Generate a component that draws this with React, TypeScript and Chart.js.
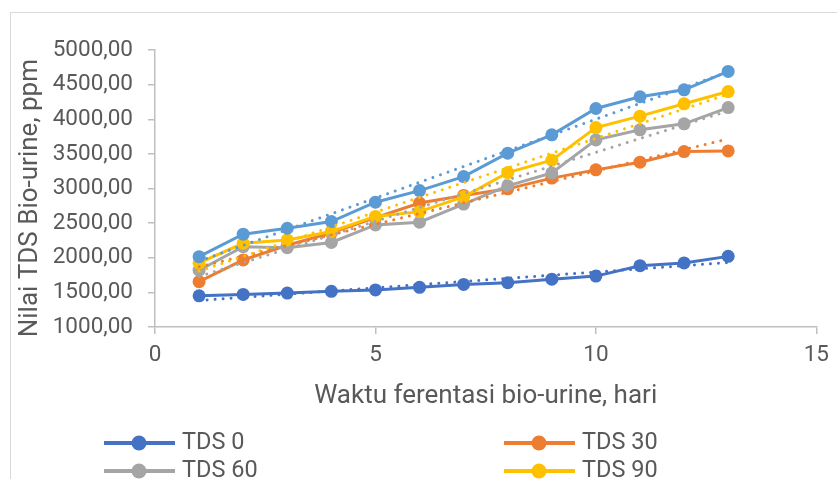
import React, { useEffect, useRef } from 'react';
import { Chart, registerables } from 'chart.js';

Chart.register(...registerables);

// ---------- data ----------
const days = [1, 2, 3, 4, 5, 6, 7, 8, 9, 10, 11, 12, 13];
const seriesNames = ['TDS 0', 'TDS 30', 'TDS 60', 'TDS 90', 'TDS 120'];
const legendNames = ['TDS 0', 'TDS 30', 'TDS 60', 'TDS 90'];
const tds0 = [1450, 1470, 1490, 1515, 1535, 1573, 1615, 1640, 1690, 1735, 1885, 1925, 2020];
const tds30 = [1655, 1968, 2180, 2360, 2580, 2790, 2900, 2995, 3150, 3269, 3380, 3533, 3543];
const tds60 = [1820, 2160, 2145, 2220, 2474, 2513, 2775, 3038, 3225, 3702, 3847, 3934, 4169];
const tds90 = [1925, 2209, 2257, 2380, 2597, 2666, 2880, 3230, 3408, 3880, 4045, 4223, 4400];
const tds120 = [2016, 2340, 2426, 2522, 2802, 2970, 3172, 3510, 3775, 4155, 4325, 4425, 4690];
const seriesValues = [tds0, tds30, tds60, tds90, tds120];
const seriesColors = ['#4472C4', '#ED7D31', '#A5A5A5', '#FFC000', '#5B9BD5'];

const yMin = 1000;
const yMax = 5000;
const yStep = 500;
const xMin = 0;
const xMax = 15;
const xStep = 5;
const xTitle = 'Waktu ferentasi bio-urine, hari';
const yTitle = 'Nilai TDS Bio-urine, ppm';

// ---------- helpers ----------
function linearFit(xs: number[], ys: number[]) {
  const n = xs.length;
  const mx = xs.reduce((a, b) => a + b, 0) / n;
  const my = ys.reduce((a, b) => a + b, 0) / n;
  let sxy = 0;
  let sxx = 0;
  for (let i = 0; i < n; i++) {
    sxy += (xs[i] - mx) * (ys[i] - my);
    sxx += (xs[i] - mx) * (xs[i] - mx);
  }
  const b = sxy / sxx;
  const a = my - b * mx;
  return (x: number) => a + b * x;
}

const TEXT = '#595959';
const AXIS = '#BFBFBF';
const FONT = 'Roboto';

const legendPlugin = {
  id: 'excelLegend',
  afterDraw(chart: any) {
    const ctx = chart.ctx;
    const items = chart.data.datasets.filter((d: any) => d.inLegend);
    const cols = [104, 504];
    const rows = [443, 471];
    items.forEach((d: any, i: number) => {
      const x0 = cols[i % 2];
      const cy = rows[Math.floor(i / 2)];
      ctx.save();
      ctx.strokeStyle = d.borderColor;
      ctx.lineWidth = 4;
      ctx.beginPath();
      ctx.moveTo(x0, cy);
      ctx.lineTo(x0 + 71, cy);
      ctx.stroke();
      ctx.fillStyle = d.borderColor;
      ctx.beginPath();
      ctx.arc(x0 + 35, cy, 7.5, 0, Math.PI * 2);
      ctx.fill();
      ctx.fillStyle = TEXT;
      ctx.font = `23.5px ${FONT}`;
      ctx.textAlign = 'left';
      ctx.textBaseline = 'middle';
      ctx.fillText(d.label, x0 + 78, cy);
      ctx.restore();
    });
  },
};

export default function App() {
  const ref = useRef<HTMLCanvasElement | null>(null);

  useEffect(() => {
    document.body.style.overflow = 'hidden';
    const canvas = ref.current;
    if (!canvas) return;

    const mainSets = seriesValues.map((vals, i) => ({
      label: seriesNames[i],
      inLegend: legendNames.includes(seriesNames[i]),
      data: days.map((d, k) => ({ x: d, y: vals[k] })),
      borderColor: seriesColors[i],
      backgroundColor: seriesColors[i],
      borderWidth: 3,
      pointRadius: 6.5,
      pointBorderWidth: 0,
      pointBackgroundColor: seriesColors[i],
      pointHoverRadius: 6.5,
      tension: 0,
      order: 20 - i,
    }));

    const trendSets = seriesValues.map((vals, i) => {
      const f = linearFit(days, vals);
      const first = days[0];
      const last = days[days.length - 1];
      return {
        label: 'Linear (' + seriesNames[i] + ')',
        inLegend: false,
        data: [
          { x: first, y: f(first) },
          { x: last, y: f(last) },
        ],
        borderColor: seriesColors[i],
        backgroundColor: seriesColors[i],
        borderWidth: 3,
        borderDash: [0.01, 8],
        borderCapStyle: 'round',
        pointRadius: 0,
        pointHoverRadius: 0,
        tension: 0,
        order: 10 - i,
      };
    });

    const chart = new Chart(canvas, {
      type: 'line',
      data: { datasets: [...mainSets, ...trendSets] as any },
      options: {
        animation: false,
        responsive: false,
        maintainAspectRatio: false,
        layout: { padding: { left: 0, right: 19, top: 50, bottom: 0 } },
        plugins: {
          legend: { display: false },
          tooltip: { enabled: false },
          title: { display: false },
        },
        scales: {
          x: {
            type: 'linear',
            min: xMin,
            max: xMax,
            afterFit: (s: any) => {
              s.height = 152;
            },
            ticks: {
              stepSize: xStep,
              padding: 8,
              color: TEXT,
              font: { family: FONT, size: 22.5 },
              maxRotation: 0,
              callback: (v: any) => String(v),
            },
            grid: {
              drawOnChartArea: false,
              drawTicks: true,
              tickLength: 7,
              color: AXIS,
              lineWidth: 1.5,
            },
            border: { display: true, color: AXIS, width: 1.5 },
            title: {
              display: true,
              text: xTitle,
              color: TEXT,
              font: { family: FONT, size: 26 },
              padding: { top: 0, bottom: 67 },
            },
          },
          y: {
            type: 'linear',
            min: yMin,
            max: yMax,
            afterFit: (s: any) => {
              s.width = 155;
            },
            ticks: {
              stepSize: yStep,
              padding: 15,
              color: TEXT,
              font: { family: FONT, size: 22.5 },
              callback: (v: any) => Number(v).toFixed(2).replace('.', ','),
            },
            grid: {
              drawOnChartArea: false,
              drawTicks: true,
              tickLength: 7,
              color: AXIS,
              lineWidth: 1.5,
            },
            border: { display: true, color: AXIS, width: 1.5 },
            title: {
              display: true,
              text: yTitle + '   ',
              color: TEXT,
              font: { family: FONT, size: 26 },
              padding: { top: 15, bottom: 0 },
            },
          },
        },
      },
      plugins: [legendPlugin],
    });

    return () => {
      chart.destroy();
    };
  }, []);

  return (
    <div>
      <div
        style={{
          position: 'absolute',
          left: 10,
          top: 12,
          width: 827,
          height: 467,
          borderTop: '1px solid #D9D9D9',
          borderLeft: '1px solid #D9D9D9',
          boxSizing: 'border-box',
          pointerEvents: 'none',
        }}
      />
      <canvas
        ref={ref}
        width={837}
        height={479}
        style={{ position: 'absolute', left: 0, top: 0, width: 837, height: 479 }}
      />
    </div>
  );
}
